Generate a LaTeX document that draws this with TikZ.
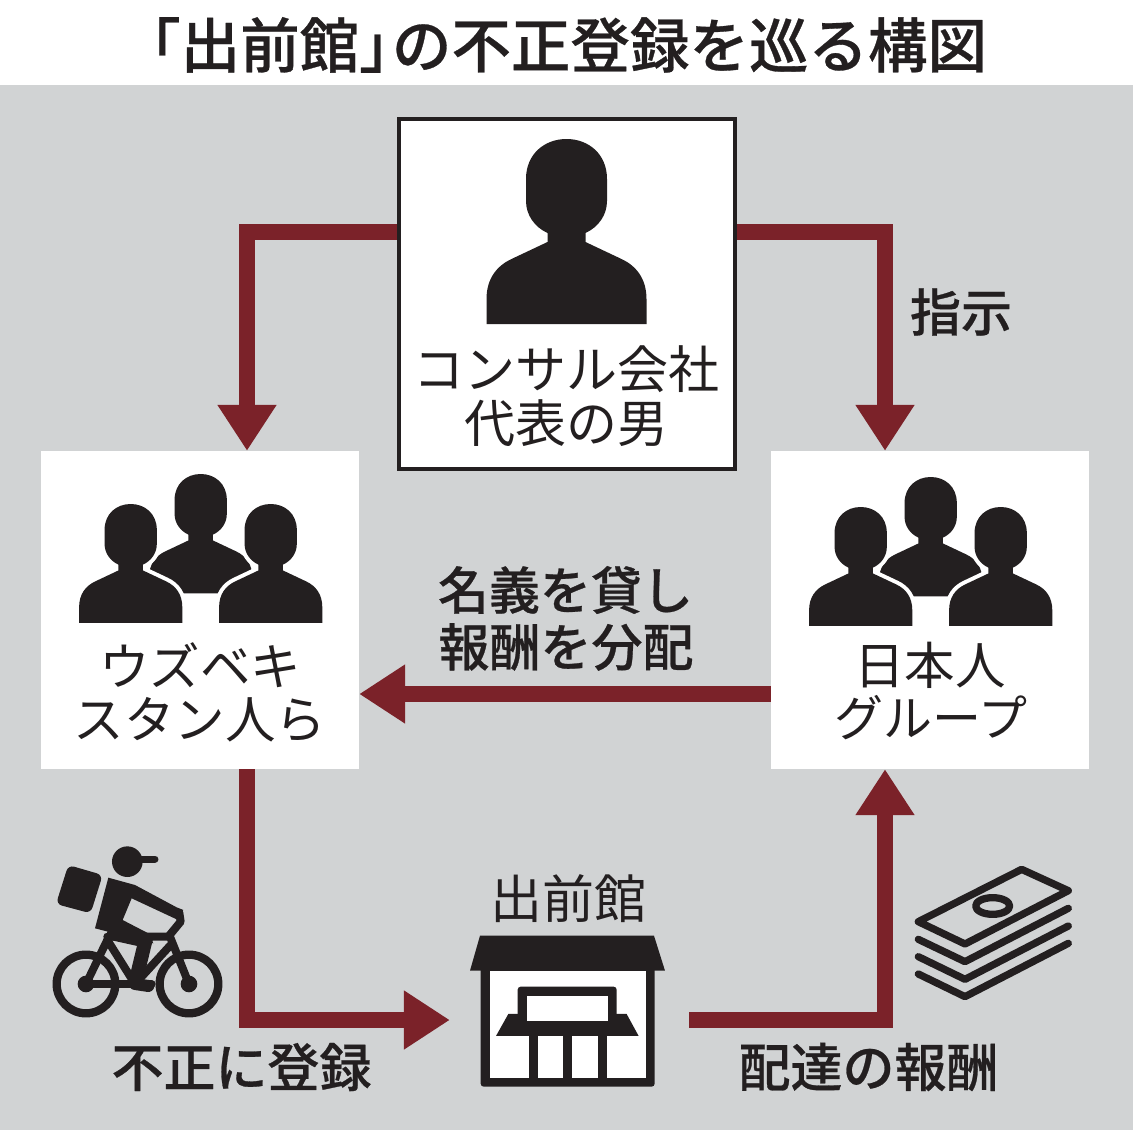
\documentclass[tikz,border=0pt]{standalone}
\usepackage{fontspec}
\setmainfont{Noto Sans CJK JP}
\newfontfamily\jpmed[FakeBold=0.5]{Noto Sans CJK JP Medium}
\usetikzlibrary{arrows.meta}
\definecolor{ink}{HTML}{231F20}
\definecolor{panel}{HTML}{D1D3D4}
\definecolor{wine}{HTML}{7B2229}
\newcommand{\fs}[1]{\fontsize{#1}{#1}\selectfont}
\tikzset{
  boxnode/.style={fill=white,minimum width=318pt,minimum height=318pt,inner sep=0pt},
  flow/.style={draw=wine,line width=16pt,-{Triangle[length=46pt,width=56pt]}},
  lab/.style={text=ink,inner sep=0pt,font=\fs{50.5}},
  blab/.style={text=ink,inner sep=0pt,font=\jpmed\fs{51}},
  person/.pic={\path[pic actions] (-40.5,40) .. controls (-40.5,15) and (-22,0) .. (0,0) .. controls (22,0) and (40.5,15) .. (40.5,40) -- (40.5,62) .. controls (40.5,76) and (32,88) .. (19,94) -- (19,103) -- (55,120) .. controls (70,127) and (80,140) .. (80,160) -- (80,185) -- (-80,185) -- (-80,160) .. controls (-80,140) and (-70,127) .. (-55,120) -- (-19,103) -- (-19,94) .. controls (-32,88) and (-40.5,76) .. (-40.5,62) -- cycle;},
  group/.pic={
    \pic[fill=ink,scale=.645] at (70,0) {person};
    \pic[draw=white,line width=8pt,scale=.645] at (0,30) {person};
    \pic[draw=white,line width=8pt,scale=.645] at (140,30) {person};
    \pic[fill=ink,scale=.645] at (0,30) {person};
    \pic[fill=ink,scale=.645] at (140,30) {person};
    \fill[white] (-55,149.4) rectangle (200,160);
  },
}
\begin{document}
\begin{tikzpicture}[x=1pt,y=-1pt]
\useasboundingbox (0,0) rectangle (1133,1130);
\fill[white] (0,0) rectangle (1133,1130);
\fill[panel] (0,85) rectangle (1133,1130);
\node[text=ink,inner sep=0pt,anchor=west,font=\jpmed\fs{59.5}] (title) at (121,45) {「出前館」\hspace{-.45em}の不正登録を巡る構図};

% boxes
\node[boxnode] (uz) at (200,610) {};
\node[boxnode] (jp) at (930,610) {};
\node[fill=white,draw=ink,line width=4.5pt,minimum width=336pt,minimum height=350pt,inner sep=0pt] (boss) at (567,294) {};
\node[minimum width=239pt,minimum height=151pt,inner sep=0pt] (shop) at (569.5,1011.5) {};

% connectors
\draw[flow] ([yshift=62pt]boss.west) -| ([xshift=47pt]uz.north);
\draw[flow] ([yshift=62pt]boss.east) -| ([xshift=-45pt]jp.north);
\draw[flow] ([yshift=-84pt]jp.west) -- ([yshift=-84pt]uz.east);
\draw[flow] ([xshift=47pt]uz.south) |- ([yshift=-8.5pt]shop.west);
\draw[flow] ([yshift=-8.5pt]shop.east) -| ([xshift=-45pt]jp.south);

% people
\pic[fill=ink] at (566.5,139) {person};
\pic at (130.7,474) {group};
\pic at (860.7,477) {group};

% labels
\node[lab,font=\fs{51}] (l1) at (566,369) {コンサル会社};
\node[lab,font=\fs{51}] (l2) at (566,423) {代表の男};
\node[lab] (l3) at (200,665) {ウズベキ};
\node[lab] (l4) at (200,720) {スタン人ら};
\node[lab] (l5) at (930,665) {日本人};
\node[lab,font=\fs{49}] (l6) at (931,718) {グループ};
\node[lab,font=\fs{52}] (l7) at (568,899) {出前館};
\node[blab] (l8) at (961,312) {指示};
\node[blab] (l9) at (565.5,590) {名義を貸し};
\node[blab] (l10) at (566,647) {報酬を分配};
\node[blab,font=\jpmed\fs{52}] (l11) at (241.5,1067) {不正に登録};
\node[blab,font=\jpmed\fs{52}] (l12) at (868.5,1067) {配達の報酬};

% bicycle
\begin{scope}[shift={(20,830)},x=.3333pt,y=-.3333pt,draw=ink,fill=ink,line cap=round,line join=round]
  \draw[line width=8.3pt] (198,462) circle[radius=88];
  \draw[line width=8.3pt] (507,462) circle[radius=88];
  \fill (198,462) circle[radius=25];
  \fill (507,462) circle[radius=25];
  \draw[line width=8pt] (198,462) -- (262,330) -- (345,462) -- (452,345);
  \draw[line width=8pt] (198,462) -- (395,462);
  \draw[line width=8pt] (262,320) -- (450,320) -- (507,462);
  \draw[line width=8pt] (445,320) -- (482,275) -- (478,248);
  \fill (322,95) circle[radius=46];
  \draw[line width=7pt] (355,87) -- (405,87);
  \fill[rounded corners=6pt] (145,105) -- (248,135) -- (212,250) -- (108,222) -- cycle;
  \fill (265,143) -- (345,165) -- (470,232) -- (490,240) -- (470,268) -- (335,205) -- (308,270) -- (385,310) -- (400,340) -- (225,295) -- cycle;
  \draw[line width=15pt,line cap=butt] (262,305) -- (375,330);
  \draw[line width=14pt,line cap=butt] (378,325) -- (345,462);
  \draw[line width=12pt] (345,462) -- (385,468);
\end{scope}

% shop icon
\begin{scope}[shift={(450,860)},x=.3333pt,y=-.3333pt]
  \fill[ink,rounded corners=3pt] (92,320) rectangle (614,680);
  \fill[white] (120,332) rectangle (587,653);
  \fill[ink] (90,227) -- (612,227) -- (645,332) -- (60,332) -- cycle;
  \fill[ink] (175,462) -- (530,462) -- (566,528) -- (138,528) -- cycle;
  \fill[ink,rounded corners=3pt] (203,380) rectangle (500,490);
  \fill[white] (231,408) rectangle (474,483);
  \fill[ink] (236,520) rectangle (263,653);
  \fill[ink] (339,520) rectangle (366,653);
  \fill[ink] (443,520) rectangle (470,653);
\end{scope}

% money
\begin{scope}[shift={(900,850)},x=.3333pt,y=-.3333pt,draw=ink,line width=7.3pt,line cap=round,line join=round]
  \draw (365,58) -- (505,122) -- (195,282) -- (55,215) -- cycle;
  \draw (278,168) ellipse[x radius=51,y radius=25];
  \draw (55,268) -- (195,335) -- (505,175);
  \draw (55,320) -- (195,388) -- (505,228);
  \draw (55,372) -- (195,440) -- (505,280);
\end{scope}
\end{tikzpicture}
\end{document}
